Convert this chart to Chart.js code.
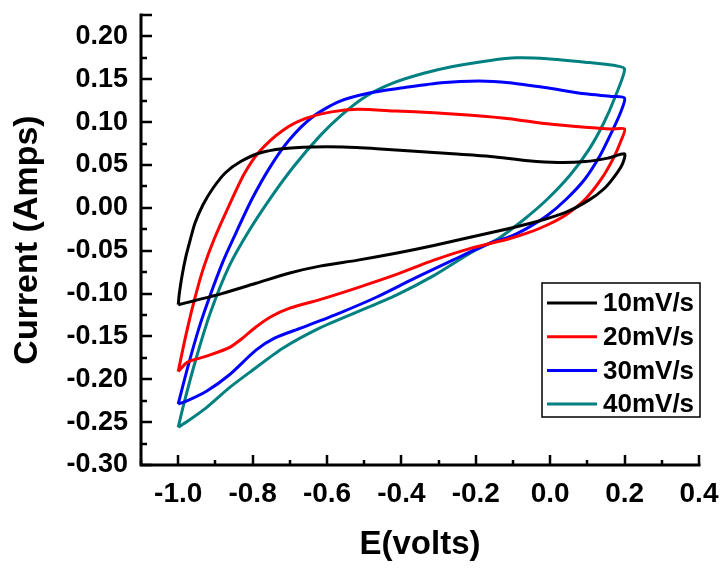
<!DOCTYPE html>
<html>
<head>
<meta charset="utf-8">
<script src="https://cdn.jsdelivr.net/npm/chart.js@4/dist/chart.umd.min.js"></script>
<style>
  html, body { margin: 0; padding: 0; background: #ffffff; }
  #wrap { width: 724px; height: 568px; }
</style>
</head>
<body>
<div id="wrap"><canvas id="c" width="724" height="568"></canvas></div>
<script>
// ---------------- data ----------------
const seriesLabels = ['10mV/s', '20mV/s', '30mV/s', '40mV/s'];
const seriesColors = ['#000000', '#ff0000', '#0000ff', '#008080'];

// 10 mV/s : anodic sweep -1.0 -> 0.2 then cathodic sweep back
const E10 = [-1.000,-0.997,-0.990,-0.980,-0.968,-0.955,-0.934,-0.908,-0.873,-0.832,-0.781,-0.720,-0.639,-0.557,-0.466,-0.364,-0.262,-0.161,-0.059,0.022,0.094,0.155,0.200,
             0.195,0.175,0.144,0.104,0.043,-0.028,-0.110,-0.212,-0.313,-0.415,-0.517,-0.619,-0.700,-0.791,-0.883,-0.954,-1.000];
const I10 = [-0.113,-0.100,-0.080,-0.058,-0.038,-0.018,0.003,0.022,0.041,0.054,0.064,0.069,0.071,0.071,0.069,0.066,0.063,0.060,0.055,0.053,0.054,0.058,0.063,
             0.052,0.038,0.022,0.009,-0.005,-0.015,-0.024,-0.034,-0.044,-0.053,-0.061,-0.068,-0.076,-0.088,-0.100,-0.108,-0.113];

// 20 mV/s
const E20 = [-1.000,-0.980,-0.958,-0.932,-0.903,-0.863,-0.822,-0.781,-0.720,-0.659,-0.588,-0.517,-0.415,-0.313,-0.212,-0.110,-0.008,0.094,0.165,0.200,
             0.190,0.170,0.138,0.094,0.043,-0.008,-0.059,-0.110,-0.212,-0.313,-0.415,-0.517,-0.619,-0.700,-0.751,-0.791,-0.830,-0.863,-0.924,-0.975,-1.000];
const I20 = [-0.191,-0.150,-0.110,-0.070,-0.036,0.003,0.040,0.066,0.090,0.104,0.112,0.115,0.113,0.111,0.108,0.104,0.098,0.094,0.092,0.092,
             0.078,0.058,0.034,0.010,-0.008,-0.020,-0.029,-0.036,-0.047,-0.061,-0.078,-0.093,-0.107,-0.117,-0.127,-0.139,-0.153,-0.163,-0.173,-0.180,-0.191];

// 30 mV/s
const E30 = [-1.000,-0.975,-0.944,-0.914,-0.880,-0.852,-0.802,-0.751,-0.700,-0.639,-0.568,-0.486,-0.395,-0.293,-0.191,-0.110,-0.008,0.094,0.165,0.200,
             0.188,0.165,0.134,0.094,0.043,-0.008,-0.059,-0.110,-0.161,-0.262,-0.364,-0.466,-0.568,-0.669,-0.741,-0.791,-0.863,-0.924,-0.975,-1.000];
const I30 = [-0.229,-0.187,-0.140,-0.102,-0.063,-0.036,0.010,0.049,0.080,0.106,0.124,0.134,0.140,0.146,0.148,0.146,0.140,0.133,0.130,0.128,
             0.110,0.088,0.061,0.034,0.010,-0.009,-0.023,-0.034,-0.041,-0.061,-0.082,-0.104,-0.123,-0.140,-0.152,-0.166,-0.195,-0.214,-0.225,-0.229];

// 40 mV/s
const E40 = [-1.000,-0.985,-0.954,-0.914,-0.863,-0.810,-0.751,-0.690,-0.619,-0.562,-0.496,-0.420,-0.340,-0.262,-0.161,-0.090,-0.008,0.094,0.175,0.200,
             0.175,0.144,0.104,0.053,-0.008,-0.069,-0.140,-0.212,-0.313,-0.415,-0.517,-0.619,-0.720,-0.802,-0.863,-0.924,-0.975,-1.000];
const I40 = [-0.256,-0.229,-0.179,-0.123,-0.068,-0.027,0.012,0.048,0.084,0.108,0.130,0.146,0.157,0.165,0.172,0.175,0.174,0.170,0.166,0.162,
             0.130,0.099,0.068,0.038,0.010,-0.013,-0.036,-0.052,-0.079,-0.102,-0.121,-0.140,-0.164,-0.190,-0.210,-0.233,-0.249,-0.256];

// axes and ticks
const xRange = [-1.1, 0.4];
const yRange = [-0.30, 0.225];
const xTickLabels = [-1.0, -0.8, -0.6, -0.4, -0.2, 0.0, 0.2, 0.4];
const xMinorTicks = [-1.1, -1.0, -0.9, -0.8, -0.7, -0.6, -0.5, -0.4, -0.3, -0.2, -0.1, 0.0, 0.1, 0.2, 0.3, 0.4];
const yTickLabels = [-0.30, -0.25, -0.20, -0.15, -0.10, -0.05, 0.00, 0.05, 0.10, 0.15, 0.20];
const yMinorTicks = [-0.30,-0.275,-0.25,-0.225,-0.20,-0.175,-0.15,-0.125,-0.10,-0.075,-0.05,-0.025,0.00,0.025,0.05,0.075,0.10,0.125,0.15,0.175,0.20,0.225];
const xTitle = 'E(volts)';
const yTitle = 'Current (Amps)';

// ---------------- chart ----------------
const FONT = "'Liberation Sans', Arial, Helvetica, sans-serif";
function pts(xs, ys) { return xs.map((v, i) => ({ x: v, y: ys[i] })); }
const seriesData = [pts(E10, I10), pts(E20, I20), pts(E30, I30), pts(E40, I40)];

const near = (a, b) => Math.abs(a - b) < 1e-6;

const axesPlugin = {
  id: 'axesPlugin',
  afterDatasetsDraw(chart) {
    const { ctx, chartArea: a, scales: { x, y } } = chart;
    ctx.save();
    ctx.strokeStyle = '#000';
    ctx.lineWidth = 3;
    ctx.lineCap = 'square';
    ctx.beginPath();
    ctx.moveTo(a.left, a.top);
    ctx.lineTo(a.left, a.bottom);
    ctx.lineTo(a.right, a.bottom);
    ctx.stroke();
    ctx.lineWidth = 2.5;
    ctx.lineCap = 'butt';
    ctx.beginPath();
    for (const v of yMinorTicks) {
      const p = Math.round(y.getPixelForValue(v));
      const major = yTickLabels.some(t => near(t, v)) || near(v, yRange[1]);
      ctx.moveTo(a.left, p);
      ctx.lineTo(a.left + (major ? 11 : 6), p);
    }
    for (const v of xMinorTicks) {
      const p = Math.round(x.getPixelForValue(v));
      const major = xTickLabels.some(t => near(t, v));
      ctx.moveTo(p, a.bottom);
      ctx.lineTo(p, a.bottom - (major ? 10 : 5));
    }
    ctx.stroke();
    ctx.restore();
  }
};

const legendPlugin = {
  id: 'boxLegend',
  afterDraw(chart) {
    const { ctx } = chart;
    const box = { left: 542, top: 283, width: 158, height: 134 };
    ctx.save();
    ctx.fillStyle = '#fff';
    ctx.fillRect(box.left, box.top, box.width, box.height);
    ctx.strokeStyle = '#000';
    ctx.lineWidth = 1.5;
    ctx.strokeRect(box.left, box.top, box.width, box.height);
    ctx.font = "bold 26px " + FONT;
    ctx.textBaseline = 'middle';
    ctx.textAlign = 'left';
    chart.data.datasets.forEach((ds, i) => {
      const yy = box.top + 20 + i * 33.7;
      ctx.strokeStyle = ds.borderColor;
      ctx.lineWidth = 3;
      ctx.beginPath();
      ctx.moveTo(box.left + 5, yy);
      ctx.lineTo(box.left + 55, yy);
      ctx.stroke();
      ctx.fillStyle = '#000';
      ctx.fillText(ds.label, box.left + 61, yy + 1);
    });
    ctx.restore();
  }
};

new Chart(document.getElementById('c'), {
  type: 'scatter',
  data: {
    datasets: seriesLabels.map((lab, i) => ({
      label: lab,
      data: seriesData[i],
      showLine: true,
      borderColor: seriesColors[i],
      backgroundColor: seriesColors[i],
      borderWidth: 3,
      pointRadius: 0,
      pointHoverRadius: 0,
      tension: 0.25,
      fill: false
    }))
  },
  options: {
    responsive: false,
    animation: false,
    devicePixelRatio: 1,
    layout: { padding: 0 },
    plugins: { legend: { display: false }, tooltip: { enabled: false }, title: { display: false } },
    scales: {
      x: {
        type: 'linear',
        position: 'bottom',
        min: xRange[0], max: xRange[1],
        grid: { display: false, drawTicks: false },
        border: { display: false },
        afterBuildTicks: s => { s.ticks = xTickLabels.map(v => ({ value: v })); },
        afterFit: s => { s.height = 103; s.paddingLeft = 0; s.paddingRight = 25; },
        ticks: {
          color: '#000',
          padding: 12,
          maxRotation: 0,
          autoSkip: false,
          font: { family: FONT, size: 28, weight: 'bold' },
          callback: v => Number(v).toFixed(1)
        },
        title: {
          display: true, text: xTitle, color: '#000',
          font: { family: FONT, size: 33, weight: 'bold' },
          padding: { top: 0, bottom: 3 }
        }
      },
      y: {
        type: 'linear',
        position: 'left',
        min: yRange[0], max: yRange[1],
        grid: { display: false, drawTicks: false },
        border: { display: false },
        afterBuildTicks: s => { s.ticks = yTickLabels.map(v => ({ value: v })); },
        afterFit: s => { s.width = 141; s.paddingTop = 15; s.paddingBottom = 0; },
        ticks: {
          color: '#000',
          padding: 13,
          autoSkip: false,
          font: { family: FONT, size: 27, weight: 'bold' },
          callback: v => Number(v).toFixed(2)
        },
        title: {
          display: true, text: yTitle, color: '#000',
          font: { family: FONT, size: 34, weight: 'bold' },
          padding: { top: 7, bottom: 0 }
        }
      }
    }
  },
  plugins: [axesPlugin, legendPlugin]
});
</script>
</body>
</html>
